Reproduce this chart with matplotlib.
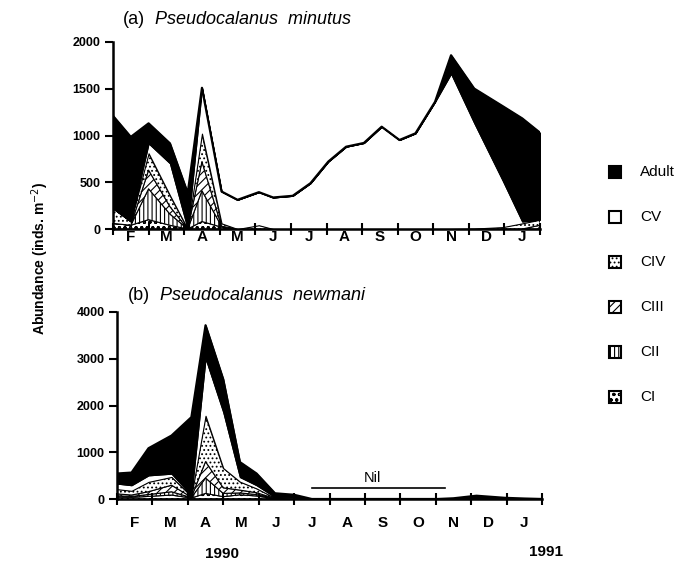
import numpy as np
import matplotlib.pyplot as plt
from matplotlib.patches import Rectangle

plt.rcParams['font.family'] = ['Liberation Sans', 'DejaVu Sans']
plt.rcParams['hatch.linewidth'] = 0.8

# 月份 (1990年2月 - 1991年1月)
month_labels = ['F', 'M', 'A', 'M', 'J', 'J', 'A', 'S', 'O', 'N', 'D', 'J']
stages = ['CI', 'CII', 'CIII', 'CIV', 'CV', 'Adult']
legend_order = ['Adult', 'CV', 'CIV', 'CIII', 'CII', 'CI']

# (a) Pseudocalanus minutus, 采样时间 (月, 0 = 2月初)
t_a = [0, 0.5, 1.0, 1.6, 2.1, 2.5, 3.05, 3.5, 4.1, 4.5, 5.05, 5.55,
       6.05, 6.55, 7.05, 7.55, 8.05, 8.5, 9.05, 9.5, 10.15, 10.95, 11.5, 12.0]
a_ci = [60, 40, 100, 40, 0, 80, 20, 0, 0, 0, 0, 0,
        0, 0, 0, 0, 0, 0, 0, 0, 0, 0, 0, 0]
a_cii = [0, 0, 330, 120, 0, 330, 10, 0, 0, 0, 0, 0,
         0, 0, 0, 0, 0, 0, 0, 0, 0, 0, 0, 0]
a_ciii = [0, 0, 200, 80, 0, 310, 0, 0, 0, 0, 0, 0,
          0, 0, 0, 0, 0, 0, 0, 0, 0, 0, 0, 40]
a_civ = [160, 40, 180, 120, 0, 300, 30, 0, 40, 0, 0, 0,
         0, 0, 0, 0, 0, 0, 0, 0, 5, 20, 60, 60]
a_cv = [0, 0, 106, 343, 0, 490, 341, 312, 354, 337, 355, 490,
        721, 880, 920, 1094, 952, 1023, 1360, 1662, 1130, 500, 20, 0]
a_adult = [990, 905, 214, 213, 384, 0, 0, 0, 0, 0, 0, 0,
           0, 0, 0, 0, 0, 0, 0, 196, 367, 794, 1103, 930]

# (b) Pseudocalanus newmani
t_b = [0, 0.41, 0.89, 1.54, 2.1, 2.5, 3.0, 3.47, 3.94, 4.46, 5.0, 5.5,
       6.05, 6.55, 7.05, 7.55, 8.05, 8.5, 9.05, 9.5, 10.15, 10.95, 11.5, 12.0]
b_ci = [40, 35, 56, 85, 20, 120, 50, 90, 65, 4, 0, 0,
        0, 0, 0, 0, 0, 0, 0, 0, 0, 0, 0, 0]
b_cii = [30, 20, 40, 70, 10, 330, 70, 40, 30, 3, 0, 0,
         0, 0, 0, 0, 0, 0, 0, 0, 0, 0, 0, 0]
b_ciii = [40, 30, 60, 140, 10, 350, 120, 60, 40, 5, 0, 0,
          0, 0, 0, 0, 0, 0, 0, 0, 0, 0, 0, 0]
b_civ = [100, 90, 210, 177, 20, 980, 420, 180, 90, 10, 0, 0,
         0, 0, 0, 0, 0, 0, 0, 0, 15, 0, 0, 0]
b_cv = [120, 120, 140, 70, 20, 1230, 1200, 100, 70, 20, 30, 0,
        0, 0, 0, 0, 0, 0, 0, 0, 15, 5, 0, 0]
b_adult = [215, 270, 580, 815, 1670, 707, 700, 320, 250, 80, 60, 0,
           0, 0, 0, 0, 0, 0, 0, 15, 40, 20, 10, 0]

nil_span = (5.5, 9.25)
nil_level = 230

# 各发育期的填充样式
styles = {'Adult': ('black', None), 'CV': ('white', None),
          'CIV': ('white', '....'), 'CIII': ('white', '////'),
          'CII': ('white', '||||'), 'CI': ('white', 'ooo')}

W, H = 681, 562
fig = plt.figure(figsize=(W / 100, H / 100), dpi=100)
ax1 = fig.add_axes([113 / W, 1 - 229 / H, 427 / W, 187 / H])
ax2 = fig.add_axes([117 / W, 1 - 499 / H, 425 / W, 187 / H])


def draw_panel(ax, t, layers, ymax, step, label_pad):
    base = np.zeros(len(t))
    for name, vals in zip(stages, layers):
        top = base + np.array(vals, dtype=float)
        fc, h = styles[name]
        ax.fill_between(t, base, top, facecolor=fc, hatch=h,
                        edgecolor='black', linewidth=0.8)
        base = top
    ax.plot(t, base, color='black', linewidth=1.6)
    ax.set_xlim(0, 12)
    ax.set_ylim(0, ymax)
    for s in ['top', 'right']:
        ax.spines[s].set_visible(False)
    for s in ['left', 'bottom']:
        ax.spines[s].set_linewidth(1.8)
    ax.set_yticks(np.arange(0, ymax + 1, step))
    ax.set_yticklabels([str(v) for v in np.arange(0, ymax + 1, step)],
                       fontsize=9, fontweight='bold')
    ax.set_xticks(np.arange(0, 13))
    ax.set_xticklabels([])
    ax.set_xticks(np.arange(0.5, 12), minor=True)
    ax.set_xticklabels(month_labels, minor=True, fontsize=11, fontweight='bold')
    ax.tick_params(axis='x', which='major', direction='inout', length=8, width=1.5)
    ax.tick_params(axis='x', which='minor', length=0, pad=label_pad)
    ax.tick_params(axis='y', direction='out', length=6, width=1.5, pad=3)


draw_panel(ax1, t_a, [a_ci, a_cii, a_ciii, a_civ, a_cv, a_adult], 2000, 500, 1)
draw_panel(ax2, t_b, [b_ci, b_cii, b_ciii, b_civ, b_cv, b_adult], 4000, 1000, 12)

# Nil 标记
ax2.plot(nil_span, [nil_level, nil_level], color='black', linewidth=1.2)
ax2.text(np.mean(nil_span) - 0.15, nil_level + 60, 'Nil', ha='center', va='bottom',
         fontsize=10.5)

# 标题
fig.text(123 / W, 1 - 20 / H, '(a)', fontsize=13, va='center')
fig.text(155 / W, 1 - 20 / H, 'Pseudocalanus  minutus', fontsize=13,
         style='italic', va='center')
fig.text(128 / W, 1 - 295 / H, '(b)', fontsize=13, va='center')
fig.text(160 / W, 1 - 295 / H, 'Pseudocalanus  newmani', fontsize=13,
         style='italic', va='center')

# 纵轴标题
fig.text(40 / W, 1 - 258 / H, 'Abundance (inds. m$^{-2}$)', rotation=90,
         ha='center', va='center', fontsize=10, fontweight='bold')

# 年份
fig.text(222 / W, 1 - 554 / H, '1990', ha='center', va='center',
         fontsize=11, fontweight='bold')
fig.text(546 / W, 1 - 552 / H, '1991', ha='center', va='center',
         fontsize=11, fontweight='bold')

# 图例
for i, name in enumerate(legend_order):
    yc = 172 + 45 * i
    fc, h = styles[name]
    fig.add_artist(Rectangle((609 / W, 1 - (yc + 6) / H), 12 / W, 12 / H,
                             transform=fig.transFigure, facecolor=fc,
                             hatch=h, edgecolor='black', linewidth=1.5))
    fig.text(640 / W, 1 - yc / H, name, va='center', fontsize=11)

plt.savefig('out.png', dpi=100)
